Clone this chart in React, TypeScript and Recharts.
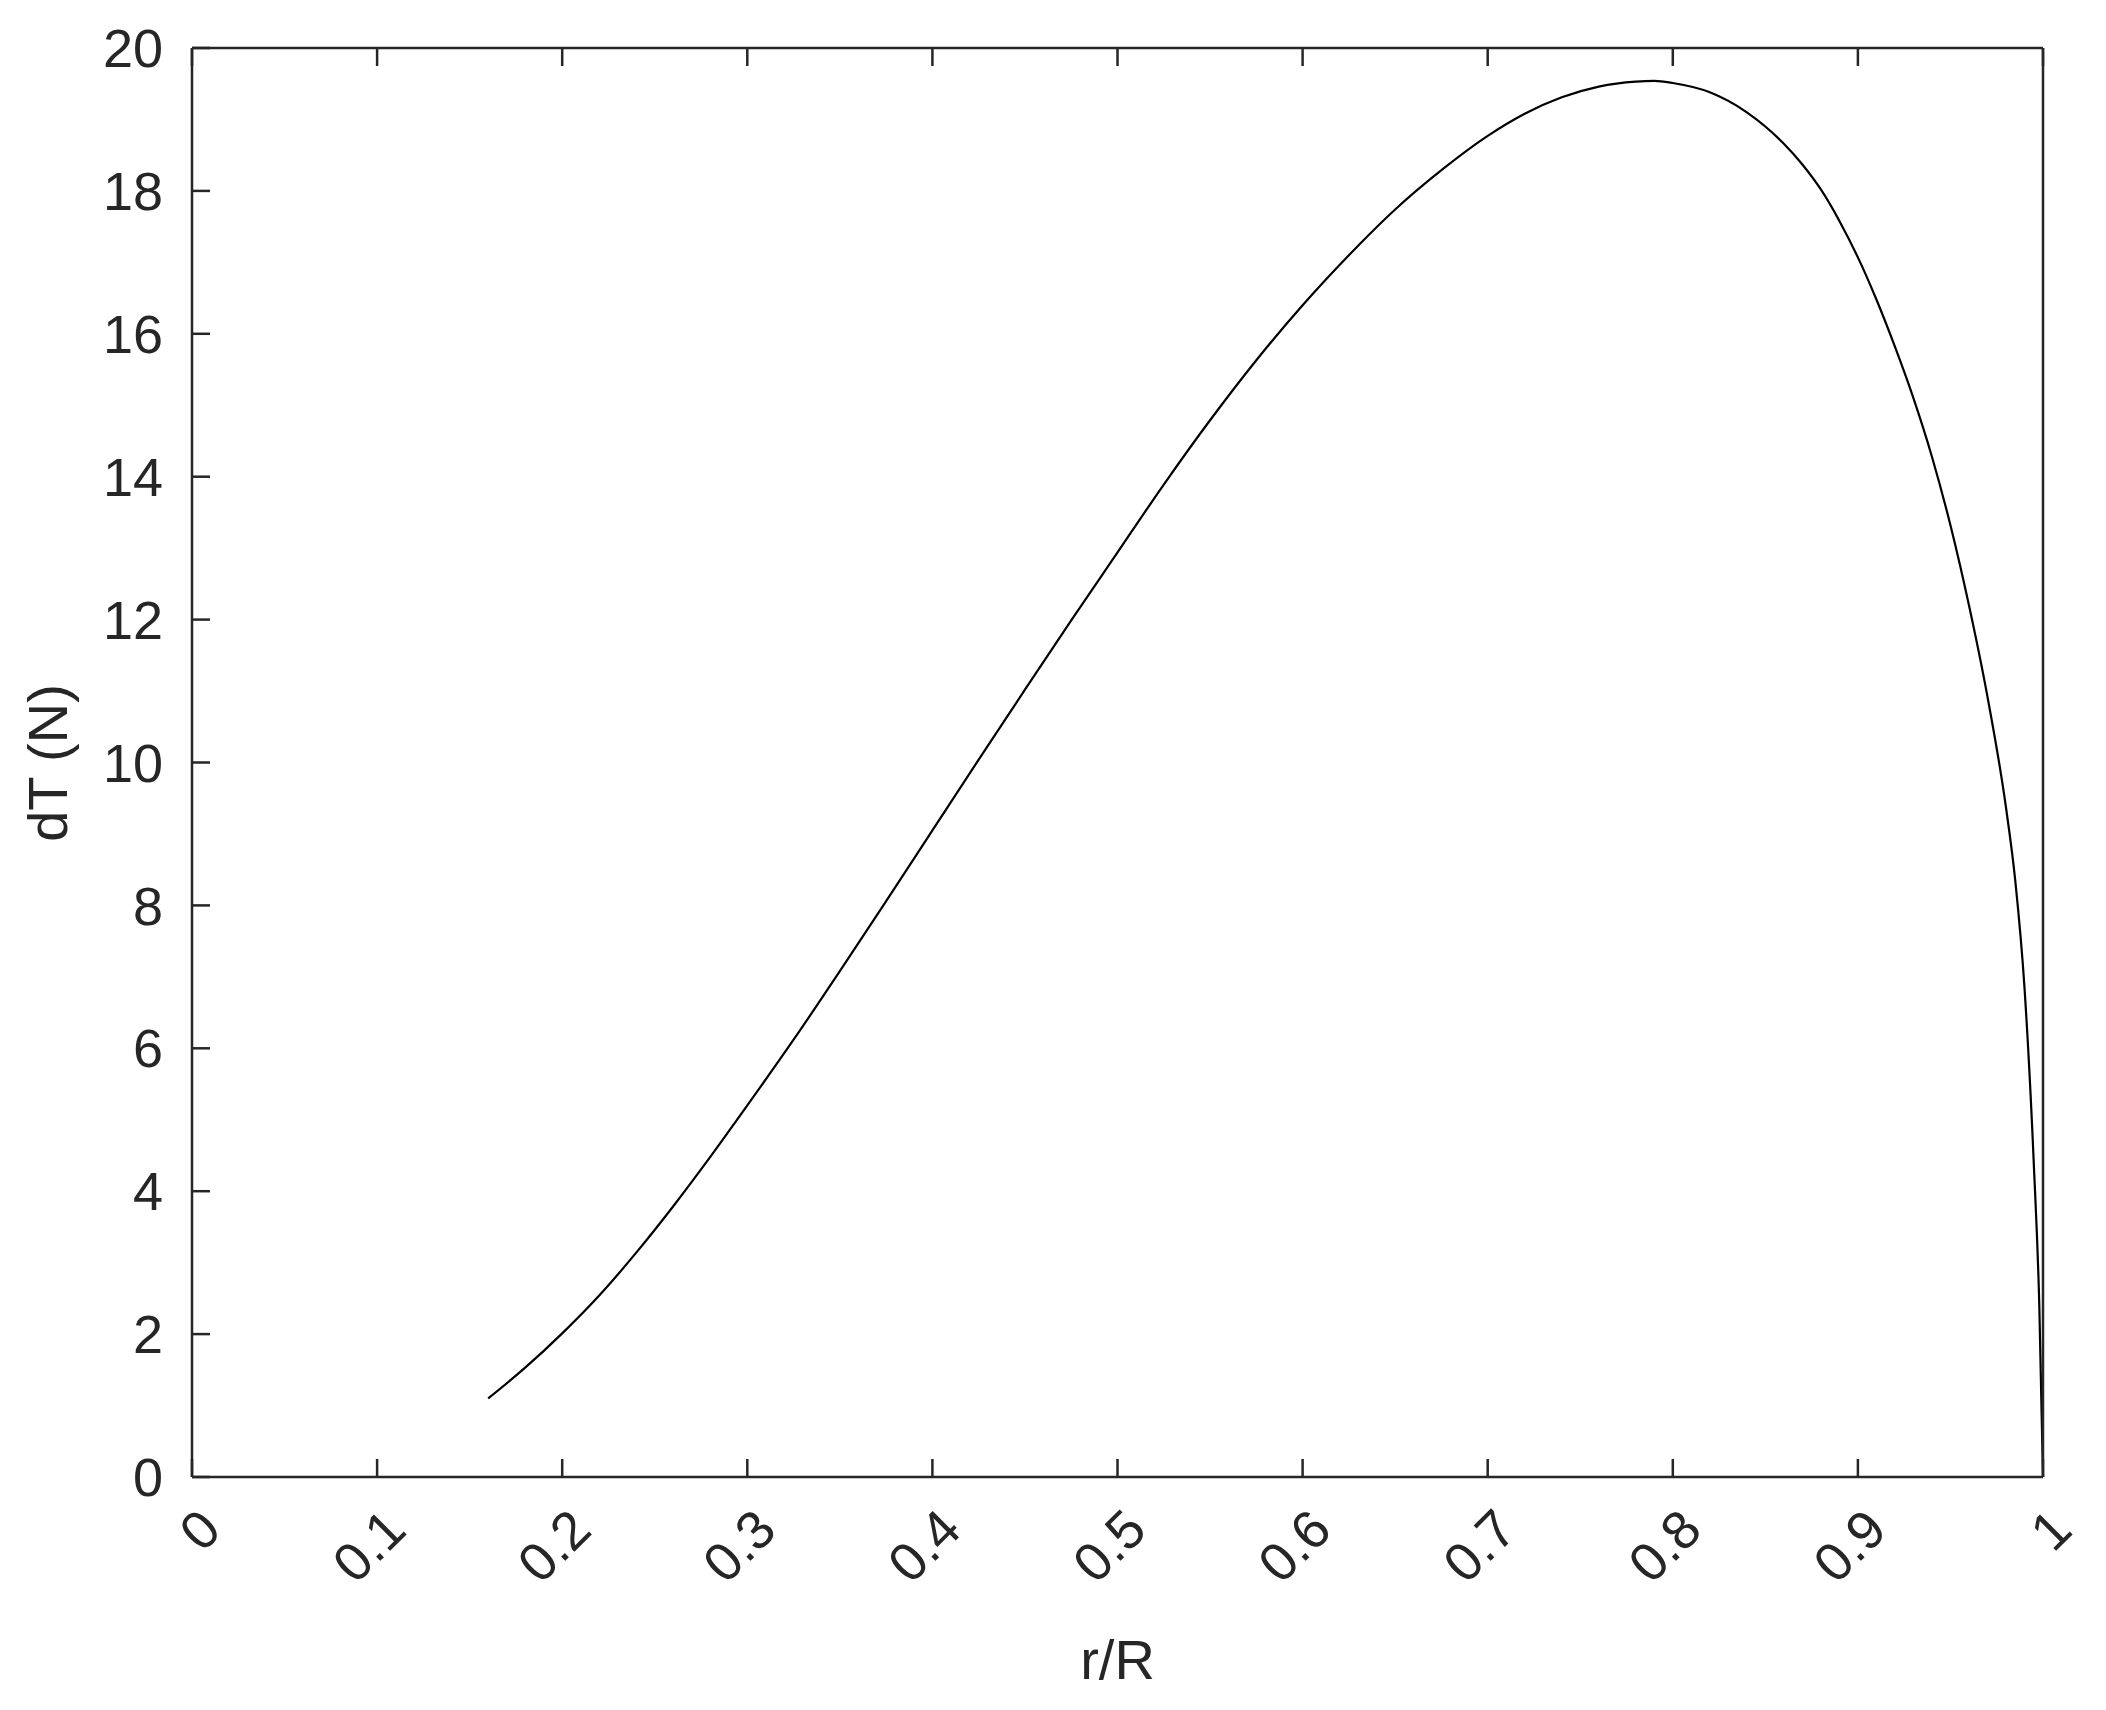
import { Label, Line, LineChart, XAxis, YAxis } from "recharts";

const rValues = [
  0.16, 0.18, 0.2, 0.22, 0.24, 0.26, 0.28, 0.3, 0.325, 0.35, 0.375, 0.4, 0.425, 0.45, 0.475, 0.5, 0.525, 0.55,
  0.575, 0.6, 0.625, 0.65, 0.675, 0.7, 0.72, 0.74, 0.76, 0.78, 0.79, 0.8, 0.82, 0.84, 0.86, 0.87, 0.88, 0.89, 0.9,
  0.91, 0.92, 0.93, 0.94, 0.95, 0.96, 0.97, 0.98, 0.985, 0.99, 0.995, 0.998, 1.0,
];
const dTValues = [
  1.1, 1.53, 2.01, 2.54, 3.14, 3.79, 4.48, 5.2, 6.12, 7.08, 8.06, 9.05, 10.04, 11.02, 11.99, 12.94, 13.89, 14.79,
  15.63, 16.4, 17.1, 17.74, 18.29, 18.77, 19.08, 19.31, 19.46, 19.53, 19.54, 19.51, 19.38, 19.1, 18.66, 18.37,
  18.02, 17.58, 17.07, 16.48, 15.82, 15.1, 14.28, 13.32, 12.2, 10.92, 9.37, 8.35, 6.85, 4.4, 2.4, 0,
];
const xTicks = [0, 0.1, 0.2, 0.3, 0.4, 0.5, 0.6, 0.7, 0.8, 0.9, 1];
const yTicks = [0, 2, 4, 6, 8, 10, 12, 14, 16, 18, 20];

const data = rValues.map((r, i) => ({ r, dT: dTValues[i] }));

const INK = "#262626";
const FONT = "'Liberation Sans', Arial, sans-serif";
const TICK_LEN = 18;
const X_GAP = 42;
const Y_GAP = 29;

// ticks point into the plot, like a MATLAB box
const BottomTick = ({ x, y, payload }: any) => (
  <g>
    <line x1={x} y1={y - X_GAP} x2={x} y2={y - X_GAP - TICK_LEN} stroke={INK} strokeWidth={2.5} />
    <text
      transform={`translate(${x + 18}, ${y}) rotate(-45)`}
      textAnchor="end"
      dominantBaseline="central"
      fontSize={54}
      fontFamily={FONT}
      fill={INK}
    >
      {String(payload.value)}
    </text>
  </g>
);

const LeftTick = ({ x, y, payload }: any) => (
  <g>
    <line x1={x + Y_GAP} y1={y} x2={x + Y_GAP + TICK_LEN} y2={y} stroke={INK} strokeWidth={2.5} />
    <text x={x} y={y} dy="0.355em" textAnchor="end" fontSize={54} fontFamily={FONT} fill={INK}>
      {String(payload.value)}
    </text>
  </g>
);

const TopTick = ({ x, y }: any) => (
  <line x1={x} y1={y} x2={x} y2={y + TICK_LEN} stroke={INK} strokeWidth={2.5} />
);

const RightTick = ({ x, y }: any) => (
  <line x1={x} y1={y} x2={x - TICK_LEN} y2={y} stroke={INK} strokeWidth={2.5} />
);

const App = () => {
  return (
    <div style={{ position: "absolute", left: 0, top: 0, width: 2106, height: 1710, background: "#fff" }}>
      <LineChart width={2106} height={1710} data={data} margin={{ top: 47, right: 62, bottom: 0, left: 0 }}>
        <XAxis
          xAxisId="bottom"
          dataKey="r"
          type="number"
          domain={[0, 1]}
          ticks={xTicks}
          interval={0}
          height={233}
          tickSize={0}
          tickMargin={X_GAP}
          tickLine={false}
          stroke={INK}
          strokeWidth={2.5}
          tick={<BottomTick />}
        >
          <Label
            content={() => (
              <text x={1117.5} y={1679} textAnchor="middle" fontSize={56} fontFamily={FONT} fill={INK}>
                r/R
              </text>
            )}
          />
        </XAxis>
        <XAxis
          xAxisId="top"
          orientation="top"
          dataKey="r"
          type="number"
          domain={[0, 1]}
          ticks={xTicks}
          interval={0}
          height={1}
          tickSize={0}
          tickMargin={0}
          tickLine={false}
          stroke={INK}
          strokeWidth={2.5}
          tick={<TopTick />}
        />
        <YAxis
          yAxisId="left"
          type="number"
          domain={[0, 20]}
          ticks={yTicks}
          interval={0}
          width={192}
          tickSize={0}
          tickMargin={Y_GAP}
          tickLine={false}
          stroke={INK}
          strokeWidth={2.5}
          tick={<LeftTick />}
        >
          <Label
            content={() => (
              <text
                transform="translate(67, 763) rotate(-90)"
                textAnchor="middle"
                fontSize={56}
                fontFamily={FONT}
                fill={INK}
              >
                dT (N)
              </text>
            )}
          />
        </YAxis>
        <YAxis
          yAxisId="right"
          orientation="right"
          type="number"
          domain={[0, 20]}
          ticks={yTicks}
          interval={0}
          width={1}
          tickSize={0}
          tickMargin={0}
          tickLine={false}
          stroke={INK}
          strokeWidth={2.5}
          tick={<RightTick />}
        />
        <Line
          xAxisId="bottom"
          yAxisId="left"
          dataKey="dT"
          type="monotone"
          stroke="#000"
          strokeWidth={2.2}
          dot={false}
          isAnimationActive={false}
        />
      </LineChart>
    </div>
  );
};

export default App;
